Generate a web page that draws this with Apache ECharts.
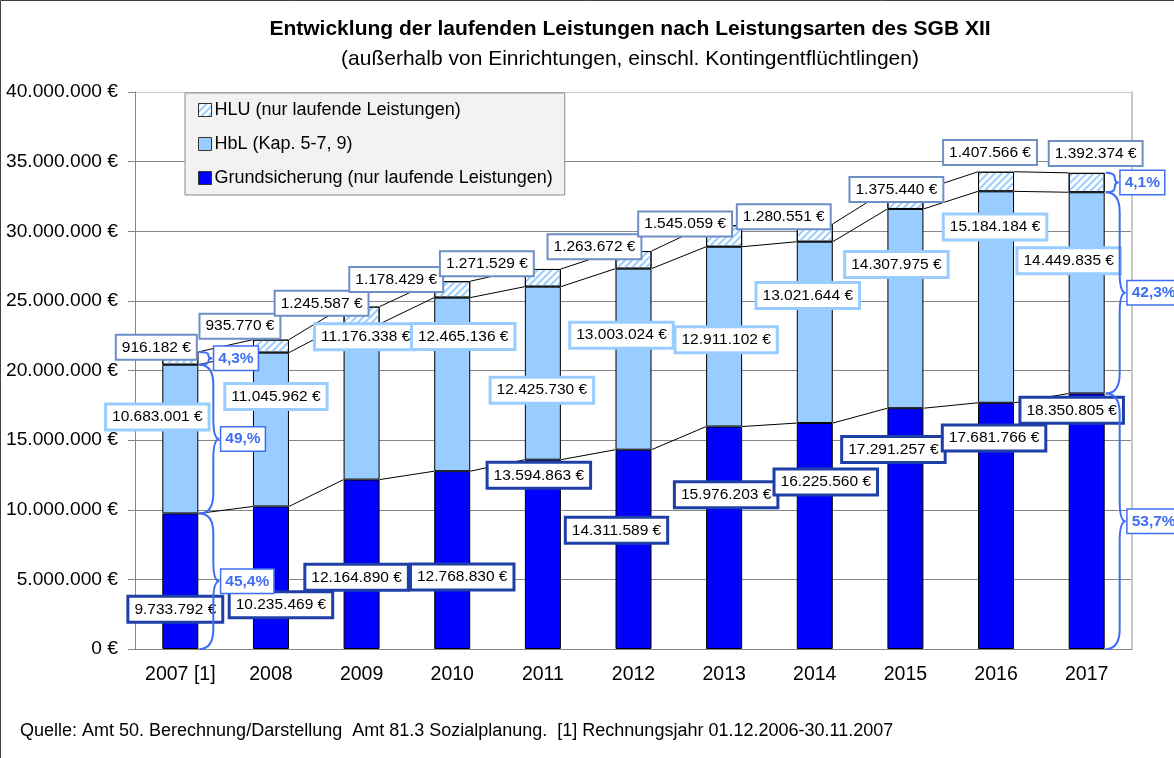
<!DOCTYPE html>
<html>
<head>
<meta charset="utf-8">
<script src="https://cdn.jsdelivr.net/npm/echarts@6/dist/echarts.min.js"></script>
<style>
  html, body { margin: 0; padding: 0; background: #fff; }
  #chart { width: 1174px; height: 758px; }
</style>
</head>
<body>
<div id="chart"></div>
<script>
const years = ['2007 [1]', '2008', '2009', '2010', '2011', '2012', '2013', '2014', '2015', '2016', '2017'];
const grund = [9733792, 10235469, 12164890, 12768830, 13594863, 14311589, 15976203, 16225560, 17291257, 17681766, 18350805];
const hbl = [10683001, 11045962, 11176338, 12465136, 12425730, 13003024, 12911102, 13021644, 14307975, 15184184, 14449835];
const hlu = [916182, 935770, 1245587, 1178429, 1271529, 1263672, 1545059, 1280551, 1375440, 1407566, 1392374];
const yMax = 40000000;
const yStep = 5000000;
// shares, bottom to top
const share2007 = ['45,4%', '49,%', '4,3%'];
const share2017 = ['53,7%', '42,3%', '4,1%'];

// label shifts in px (layout only)
const gsShift = [[-5, 28], [10, 27], [-5, 13], [10, 17], [-4, -79], [-17, -19], [2, -43], [11, -54], [-12, -79], [-2, -88], [-15, -111]];
const hblShift = [[-23, -22], [5, -33], [4, -65], [11, -48], [-1, 17], [-12, -24], [2, 3], [-7, -37], [-9, -44], [-1, -70], [-18, -32]];
const hluShift = [[-24, -11], [-31, -20], [-40, -12], [-56, -10], [-56, -14], [-39, -13], [-39, -12], [-31, -16], [-9, -10], [-6, -29], [9, -29]];

const FONT = 'Liberation Sans, Arial, sans-serif';
const BAR_W = 36;
const BRACE = '#3f6ef5';

function fmt(n) {
    return String(n).replace(/\B(?=(\d{3})+(?!\d))/g, '.');
}

const lvl1 = grund.slice();
const lvl2 = grund.map((v, i) => v + hbl[i]);
const lvl3 = lvl2.map((v, i) => v + hlu[i]);

function labelled(values, shifts) {
    return values.map((v, i) => ({
        value: v,
        label: { offset: shifts[i] },
    }));
}

function barLabel(border, borderW) {
    return {
        show: true,
        position: 'inside',
        formatter: (p) => `${fmt(p.value)} €`,
        fontFamily: FONT,
        fontSize: 15.5,
        color: '#000',
        backgroundColor: '#fff',
        borderColor: border,
        borderWidth: borderW,
        padding: [4, 5, 3, 5],
    };
}

const hatch = {
    symbol: 'rect',
    color: '#99ccff',
    dashArrayX: [1, 0],
    dashArrayY: [2, 3],
    rotation: -Math.PI / 4,
};

// brace items: [category, low, high, text]
const braces = [
    [0, 0, lvl1[0], share2007[0]],
    [0, lvl1[0], lvl2[0], share2007[1]],
    [0, lvl2[0], lvl3[0], share2007[2]],
    [10, 0, lvl1[10], share2017[0]],
    [10, lvl1[10], lvl2[10], share2017[1]],
    [10, lvl2[10], lvl3[10], share2017[2]],
];

function renderBrace(params, api) {
    const cat = api.value(0);
    const top = api.coord([cat, api.value(2)]);
    const bot = api.coord([cat, api.value(1)]);
    const x0 = top[0] + BAR_W / 2 + 1;
    const y1 = top[1];
    const y2 = bot[1];
    const h = y2 - y1;
    const ym = (y1 + y2) / 2;
    const w = h < 30 ? 13 : 20;
    const xb = x0 + w * 0.7;
    const xt = x0 + w;
    const r = Math.min(h / 4, 20);
    const path = `M${x0},${y1} Q${xb},${y1} ${xb},${y1 + r} L${xb},${ym - r} Q${xb},${ym} ${xt},${ym}`
        + ` Q${xb},${ym} ${xb},${ym + r} L${xb},${y2 - r} Q${xb},${y2} ${x0},${y2}`;
    return {
        type: 'group',
        children: [
            {
                type: 'path',
                shape: { pathData: path },
                style: { fill: 'none', stroke: BRACE, lineWidth: 2 },
            },
            {
                type: 'text',
                x: xt + 2,
                y: ym,
                style: {
                    text: braces[params.dataIndex][3],
                    align: 'left',
                    verticalAlign: 'middle',
                    font: `bold 15.5px ${FONT}`,
                    fill: BRACE,
                    backgroundColor: '#fff',
                    borderColor: BRACE,
                    borderWidth: 1.5,
                    padding: [4, 4, 3, 4],
                },
            },
        ],
    };
}

function renderSeriesLines(params, api) {
    const i = api.value(0);
    const children = [lvl1, lvl2, lvl3].map((lv) => {
        const a = api.coord([i, lv[i]]);
        const b = api.coord([i + 1, lv[i + 1]]);
        return {
            type: 'line',
            shape: { x1: a[0] + BAR_W / 2, y1: a[1], x2: b[0] - BAR_W / 2, y2: b[1] },
            style: { stroke: '#000', lineWidth: 1 },
        };
    });
    return { type: 'group', children };
}

const chart = echarts.init(document.getElementById('chart'));

const gridColors = ['#868686', '#868686', '#868686', '#868686', '#868686', '#868686', '#868686', '#868686', '#c8c8c8'];

chart.setOption({
    animation: false,
    textStyle: { fontFamily: FONT },
    title: {
        text: 'Entwicklung der laufenden Leistungen nach Leistungsarten des SGB XII',
        subtext: '(außerhalb von Einrichtungen, einschl. Kontingentflüchtlingen)',
        left: 625,
        textAlign: 'center',
        top: 14,
        itemGap: 9,
        textStyle: { fontFamily: FONT, fontSize: 21, fontWeight: 'bold', color: '#000' },
        subtextStyle: { fontFamily: FONT, fontSize: 21, color: '#000' },
    },
    legend: {
        orient: 'vertical',
        left: 185,
        top: 93,
        selectedMode: false,
        icon: 'rect',
        data: [
            {
                name: 'HLU (nur laufende Leistungen)',
                itemStyle: { color: '#ffffff', borderColor: '#333', borderWidth: 1, decal: hatch },
            },
            {
                name: 'HbL (Kap. 5-7, 9)',
                itemStyle: { borderColor: '#333', borderWidth: 1 },
            },
            {
                name: 'Grundsicherung (nur laufende Leistungen)',
                itemStyle: { borderColor: '#333', borderWidth: 1 },
            },
        ],
        backgroundColor: '#f2f2f2',
        borderColor: '#8c8c8c',
        borderWidth: 1,
        borderRadius: 0,
        padding: [8, 12, 8, 13],
        itemGap: 16,
        itemWidth: 13,
        itemHeight: 13,
        textStyle: { fontFamily: FONT, fontSize: 18, color: '#000', padding: [0, 0, 0, -2] },
    },
    grid: { left: 135, right: 42, top: 92, bottom: 109 },
    xAxis: {
        type: 'category',
        data: years,
        axisTick: { show: false },
        axisLine: { lineStyle: { color: '#868686', width: 1 } },
        axisLabel: { interval: 0, fontFamily: FONT, fontSize: 19.5, color: '#000', margin: 16 },
    },
    yAxis: [
        {
            type: 'value',
            min: 0,
            max: yMax,
            interval: yStep,
            axisLine: { show: true, lineStyle: { color: '#868686' } },
            axisTick: { show: true, length: 7, lineStyle: { color: '#868686' } },
            axisLabel: {
                fontFamily: FONT, fontSize: 19.2, color: '#000', margin: 17,
                formatter: (v) => `${fmt(v)} €`,
            },
            splitLine: { lineStyle: { color: gridColors, width: 1 } },
        },
        {
            type: 'value',
            min: 0,
            max: yMax,
            interval: yStep,
            position: 'right',
            axisLine: { show: true, lineStyle: { color: '#c8c8c8', width: 2 } },
            axisTick: { show: false },
            axisLabel: { show: false },
            splitLine: { show: false },
        },
    ],
    series: [
        {
            name: 'Grundsicherung (nur laufende Leistungen)',
            type: 'bar',
            stack: 'sum',
            barWidth: BAR_W,
            itemStyle: { color: '#0000ff', borderColor: '#000', borderWidth: 1 },
            label: barLabel('#1f3fa8', 3),
            data: labelled(grund, gsShift),
        },
        {
            name: 'HbL (Kap. 5-7, 9)',
            type: 'bar',
            stack: 'sum',
            barWidth: BAR_W,
            itemStyle: { color: '#99ccff', borderColor: '#000', borderWidth: 1 },
            label: barLabel('#99ccff', 3),
            data: labelled(hbl, hblShift),
        },
        {
            name: 'HLU (nur laufende Leistungen)',
            type: 'bar',
            stack: 'sum',
            barWidth: BAR_W,
            itemStyle: {
                color: '#ffffff',
                borderColor: '#000',
                borderWidth: 1,
                decal: hatch,
            },
            label: barLabel('#6d8fc6', 2),
            data: labelled(hlu, hluShift),
        },
        {
            type: 'custom',
            z: 1,
            silent: true,
            renderItem: renderSeriesLines,
            encode: { x: 0, y: 1 },
            data: years.slice(0, -1).map((y, i) => [i, lvl3[i]]),
        },
        {
            type: 'custom',
            z: 5,
            silent: true,
            renderItem: renderBrace,
            encode: { x: 0, y: [1, 2] },
            data: braces.map((b) => [b[0], b[1], b[2]]),
        },
    ],
    graphic: [
        {
            type: 'rect',
            shape: { x: 0.5, y: 0.5, width: 1200, height: 800 },
            style: { fill: 'none', stroke: '#404040', lineWidth: 1 },
            silent: true,
        },
        {
            type: 'text',
            left: 20,
            top: 722,
            style: {
                text: 'Quelle: Amt 50. Berechnung/Darstellung  Amt 81.3 Sozialplanung.  [1] Rechnungsjahr 01.12.2006-30.11.2007',
                font: `18px ${FONT}`,
                fill: '#000',
            },
        },
    ],
});
</script>
</body>
</html>
